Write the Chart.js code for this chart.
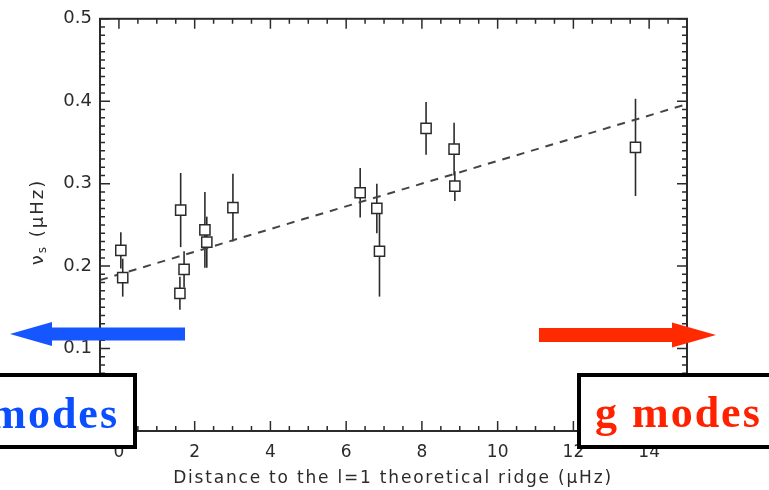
<!DOCTYPE html>
<html>
<head>
<meta charset="utf-8">
<script src="https://cdn.jsdelivr.net/npm/chart.js@4.4.1/dist/chart.umd.min.js"></script>
<style>
  html, body { margin: 0; padding: 0; background: #fff; }
  #wrap { width: 769px; height: 490px; }
</style>
</head>
<body>
<div id="wrap"><canvas id="nuChart" width="769" height="490"></canvas></div>
<script>
// distance to the l=1 ridge (µHz), rotational splitting (µHz), 1-sigma error
const distance  = [0.05, 0.10, 1.63, 1.72, 1.61, 2.27, 2.32, 3.01, 6.37, 6.81, 6.88, 8.11, 8.85, 8.87, 13.64];
const splitting = [0.219, 0.186, 0.268, 0.196, 0.167, 0.244, 0.229, 0.271, 0.289, 0.270, 0.218, 0.367, 0.342, 0.297, 0.344];
const splitErr  = [0.022, 0.023, 0.045, 0.022, 0.020, 0.046, 0.031, 0.041, 0.030, 0.030, 0.055, 0.032, 0.032, 0.018, 0.059];

// linear fit, drawn dashed across the whole frame
const fitX = [-0.5, 15];
const fitY = [0.183, 0.3965];

const xTicks = [0, 2, 4, 6, 8, 10, 12, 14];
const yTicks = [0, 0.1, 0.2, 0.3, 0.4, 0.5];

const INK = '#2b2b2b';
const SANS = '"DejaVu Sans", sans-serif';

// vertical error bars under the square markers
const errorBars = {
  id: 'errorBars',
  beforeDatasetsDraw(chart) {
    const ctx = chart.ctx, x = chart.scales.x, y = chart.scales.y;
    ctx.save();
    ctx.strokeStyle = INK;
    ctx.lineWidth = 1.6;
    distance.forEach((d, i) => {
      const px = x.getPixelForValue(d);
      ctx.beginPath();
      ctx.moveTo(px, y.getPixelForValue(splitting[i] - splitErr[i]));
      ctx.lineTo(px, y.getPixelForValue(splitting[i] + splitErr[i]));
      ctx.stroke();
    });
    ctx.restore();
  }
};

function arrow(ctx, tail, tip, yc, shaft, headLen, headH, color) {
  const dir = Math.sign(tip - tail);
  const base = tip - dir * headLen;
  ctx.fillStyle = color;
  ctx.fillRect(Math.min(tail, base), yc - shaft / 2, Math.abs(base - tail), shaft);
  ctx.beginPath();
  ctx.moveTo(tip, yc);
  ctx.lineTo(base, yc - headH / 2);
  ctx.lineTo(base, yc + headH / 2);
  ctx.closePath();
  ctx.fill();
}

function labelBox(ctx, bx, by, bw, bh, text, tx, ty, align, color) {
  ctx.fillStyle = '#fff';
  ctx.fillRect(bx, by, bw, bh);
  ctx.strokeStyle = '#000';
  ctx.lineWidth = 4;
  ctx.strokeRect(bx, by, bw, bh);
  ctx.font = 'bold 44px "Liberation Serif", serif';
  ctx.letterSpacing = '2px';
  ctx.textAlign = align;
  ctx.textBaseline = 'alphabetic';
  ctx.fillStyle = color;
  ctx.fillText(text, tx, ty);
  ctx.letterSpacing = '0px';
}

// IDL-style frame: box, inward major/minor ticks on all four sides, titles, annotations
const frame = {
  id: 'frame',
  afterDraw(chart) {
    const ctx = chart.ctx, a = chart.chartArea;
    const x = chart.scales.x, y = chart.scales.y;
    ctx.save();
    ctx.strokeStyle = INK;
    ctx.lineWidth = 2;
    ctx.strokeRect(a.left, a.top, a.right - a.left, a.bottom - a.top);

    ctx.lineWidth = 1.5;
    ctx.beginPath();
    for (let i = -1; i <= 30; i++) {
      const v = i / 2;
      const px = x.getPixelForValue(v);
      const len = (v >= 0 && v % 2 === 0) ? 10 : 5;
      ctx.moveTo(px, a.bottom); ctx.lineTo(px, a.bottom - len);
      ctx.moveTo(px, a.top); ctx.lineTo(px, a.top + len);
    }
    for (let i = 0; i <= 50; i++) {
      const py = y.getPixelForValue(i / 100);
      const len = i % 10 === 0 ? 10 : 5;
      ctx.moveTo(a.left, py); ctx.lineTo(a.left + len, py);
      ctx.moveTo(a.right, py); ctx.lineTo(a.right - len, py);
    }
    ctx.stroke();

    // x-axis title, spaced out like the IDL vector font
    ctx.fillStyle = INK;
    ctx.font = '17px ' + SANS;
    ctx.letterSpacing = '1.8px';
    ctx.textAlign = 'center';
    ctx.textBaseline = 'middle';
    ctx.fillText('Distance to the l=1 theoretical ridge (\u03bcHz)', 393, 479);

    // y-axis title with subscript
    ctx.translate(38, 222);
    ctx.rotate(-Math.PI / 2);
    ctx.textAlign = 'left';
    ctx.letterSpacing = '2px';
    const big = '18px ' + SANS, small = '12px ' + SANS;
    ctx.font = big;
    const wNu = ctx.measureText('\u03bd').width;
    const wRest = ctx.measureText(' (\u03bcHz)').width;
    ctx.font = small;
    const wS = ctx.measureText('s').width;
    let cx = -(wNu + wS + wRest) / 2;
    ctx.font = big;
    ctx.fillText('\u03bd', cx, 0); cx += wNu;
    ctx.font = small;
    ctx.fillText('s', cx, 5); cx += wS;
    ctx.font = big;
    ctx.fillText(' (\u03bcHz)', cx, 0);
    ctx.setTransform(1, 0, 0, 1, 0, 0);
    ctx.letterSpacing = '0px';

    // direction arrows and mode boxes
    arrow(ctx, 185, 10, 334, 13, 42, 24, '#1556ff');
    arrow(ctx, 539, 716, 335, 14, 44, 25, '#ff2a00');
    labelBox(ctx, -10, 375, 145, 72, 'modes', 119, 428, 'right', '#0b4eff');
    labelBox(ctx, 579, 375, 200, 72, 'g modes', 595, 427, 'left', '#ff2200');
    ctx.restore();
  }
};

new Chart(document.getElementById('nuChart'), {
  type: 'scatter',
  data: {
    datasets: [
      {
        type: 'line',
        data: fitX.map((v, i) => ({ x: v, y: fitY[i] })),
        borderColor: '#444',
        borderWidth: 2,
        borderDash: [8, 7],
        pointRadius: 0,
        fill: false,
        order: 2
      },
      {
        data: distance.map((v, i) => ({ x: v, y: splitting[i] })),
        pointStyle: 'rect',
        pointRadius: 7.2,
        borderColor: INK,
        borderWidth: 1.5,
        backgroundColor: '#fff',
        order: 1
      }
    ]
  },
  options: {
    responsive: false,
    animation: false,
    devicePixelRatio: 1,
    layout: { padding: { top: 13, right: 82, left: 0, bottom: 0 } },
    plugins: { legend: { display: false }, tooltip: { enabled: false } },
    scales: {
      x: {
        type: 'linear',
        min: -0.5,
        max: 15,
        afterBuildTicks: s => { s.ticks = xTicks.map(v => ({ value: v })); },
        afterFit: s => { s.height = 59; },
        grid: { display: false, drawTicks: false },
        border: { display: false },
        ticks: {
          padding: 11,
          color: INK,
          maxRotation: 0,
          font: { family: SANS, size: 17 },
          callback: v => String(v)
        }
      },
      y: {
        type: 'linear',
        min: 0,
        max: 0.5,
        afterBuildTicks: s => { s.ticks = yTicks.map(v => ({ value: v })); },
        afterFit: s => { s.width = 100; },
        grid: { display: false, drawTicks: false },
        border: { display: false },
        ticks: {
          padding: 8,
          color: INK,
          font: { family: SANS, size: 18 },
          callback: v => v.toFixed(1)
        }
      }
    }
  },
  plugins: [errorBars, frame]
});
</script>
</body>
</html>
